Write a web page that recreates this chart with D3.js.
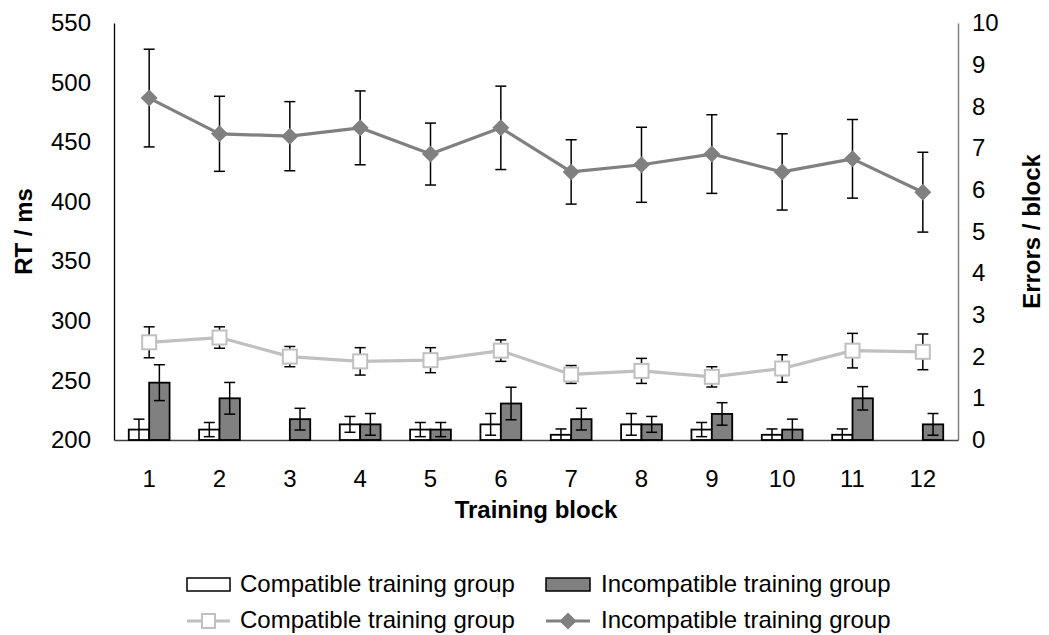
<!DOCTYPE html>
<html>
<head>
<meta charset="utf-8">
<script src="https://cdn.jsdelivr.net/npm/d3@7"></script>
<style>
  html, body { margin: 0; padding: 0; background: #fff; }
  svg { display: block; font-family: "Liberation Sans", Arial, sans-serif; }
  text { fill: #000; }
</style>
</head>
<body>
<svg id="chart" width="1049" height="635"></svg>
<script>
// Training blocks on the x axis
const blocks = ["1","2","3","4","5","6","7","8","9","10","11","12"];

// Reaction times (ms), means and standard errors
const rtCompatible      = [282, 286, 270, 266, 267, 275, 255, 258, 253, 260, 275, 274];
const rtCompatibleSE    = [13, 9, 8.5, 11.5, 10.5, 9, 7.5, 10.5, 8.5, 11.5, 14.5, 15];
const rtIncompatible    = [487, 457, 455, 462, 440, 462, 425, 431, 440, 425, 436, 408];
const rtIncompatibleSE  = [41, 31.5, 29, 31, 26, 35, 27, 31.5, 33, 32, 33, 33.5];

// Errors per block, means and standard errors
const errCompatible     = [0.25, 0.25, 0, 0.375, 0.25, 0.375, 0.125, 0.375, 0.25, 0.125, 0.125, 0];
const errCompatibleSE   = [0.25, 0.17, 0, 0.19, 0.17, 0.26, 0.14, 0.26, 0.17, 0.14, 0.14, 0];
const errIncompatible   = [1.375, 1.0, 0.5, 0.375, 0.25, 0.875, 0.5, 0.375, 0.625, 0.25, 1.0, 0.375];
const errIncompatibleSE = [0.43, 0.38, 0.26, 0.26, 0.17, 0.39, 0.26, 0.19, 0.27, 0.25, 0.28, 0.26];

// Axis ticks
const rtTicks  = [200, 250, 300, 350, 400, 450, 500, 550];
const errTicks = [0, 1, 2, 3, 4, 5, 6, 7, 8, 9, 10];

const legendLabels = ["Compatible training group", "Incompatible training group"];

const svg = d3.select("#chart");
const plot = { left: 114, right: 958, top: 23, bottom: 440 };
const FONT = 24;

const x = d3.scaleBand().domain(blocks).range([plot.left, plot.right]).padding(0);
const yRT = d3.scaleLinear().domain([200, 550]).range([plot.bottom, plot.top]);
const yErr = d3.scaleLinear().domain([0, 10]).range([plot.bottom, plot.top]);

const barW = x.bandwidth() * 0.29;
const cx = d => x(d) + x.bandwidth() / 2;

// ---- Axes ----
const gLeft = svg.append("g").attr("transform", `translate(${plot.left},0)`)
  .call(d3.axisLeft(yRT).tickValues(rtTicks).tickSize(0).tickSizeOuter(0).tickPadding(23));
gLeft.select(".domain").attr("stroke", "#000").attr("stroke-width", 1.3);

const gRight = svg.append("g").attr("transform", `translate(${plot.right},0)`)
  .call(d3.axisRight(yErr).tickValues(errTicks).tickSize(0).tickSizeOuter(0).tickPadding(14));
gRight.select(".domain").attr("stroke", "#808080").attr("stroke-width", 1.5);

const gBottom = svg.append("g").attr("transform", `translate(0,${plot.bottom})`)
  .call(d3.axisBottom(x).tickSize(0).tickSizeOuter(0).tickPadding(30));
gBottom.select(".domain").attr("stroke", "#404040").attr("stroke-width", 1.3);

svg.selectAll(".tick text").attr("font-size", FONT).attr("font-family", "Liberation Sans, Arial, sans-serif").attr("fill", "#000");

// ---- Axis titles ----
svg.append("text")
  .attr("transform", `translate(32,${(plot.top + plot.bottom) / 2}) rotate(-90)`)
  .attr("text-anchor", "middle").attr("font-size", FONT).attr("font-weight", "bold")
  .text("RT / ms");
svg.append("text")
  .attr("transform", `translate(1040,${(plot.top + plot.bottom) / 2}) rotate(-90)`)
  .attr("text-anchor", "middle").attr("font-size", FONT).attr("font-weight", "bold")
  .text("Errors / block");
svg.append("text")
  .attr("x", (plot.left + plot.right) / 2).attr("y", 518)
  .attr("text-anchor", "middle").attr("font-size", FONT).attr("font-weight", "bold")
  .text("Training block");

// ---- Error-count bars ----
const barSeries = [
  { values: errCompatible, se: errCompatibleSE, offset: -barW, fill: "#ffffff" },
  { values: errIncompatible, se: errIncompatibleSE, offset: 0, fill: "#808080" }
];
const capHalf = 5.5;

barSeries.forEach(s => {
  const g = svg.append("g");
  g.selectAll("rect").data(blocks).join("rect")
    .attr("x", d => cx(d) + s.offset)
    .attr("y", (d, i) => yErr(s.values[i]))
    .attr("width", barW)
    .attr("height", (d, i) => yErr(0) - yErr(s.values[i]))
    .attr("fill", s.fill)
    .attr("stroke", "#000").attr("stroke-width", 1.8);
  const eb = g.selectAll("g.eb").data(blocks.filter((d, i) => s.se[i] > 0)).join("g").attr("class", "eb");
  const idx = d => blocks.indexOf(d);
  const ex = d => cx(d) + s.offset + barW / 2;
  const hi = d => yErr(s.values[idx(d)] + s.se[idx(d)]);
  const lo = d => yErr(Math.max(0, s.values[idx(d)] - s.se[idx(d)]));
  eb.append("line").attr("x1", ex).attr("x2", ex).attr("y1", hi).attr("y2", lo)
    .attr("stroke", "#000").attr("stroke-width", 1.5);
  eb.append("line").attr("x1", d => ex(d) - capHalf).attr("x2", d => ex(d) + capHalf)
    .attr("y1", hi).attr("y2", hi).attr("stroke", "#000").attr("stroke-width", 1.5);
  eb.append("line").attr("x1", d => ex(d) - capHalf).attr("x2", d => ex(d) + capHalf)
    .attr("y1", lo).attr("y2", lo).attr("stroke", "#000").attr("stroke-width", 1.5)
    .attr("display", d => s.values[idx(d)] - s.se[idx(d)] < 0.02 ? "none" : null);
});

// ---- Reaction-time lines ----
const diamond = r => `M0,${-r}L${r},0L0,${r}L${-r},0Z`;
const lineSeries = [
  { values: rtCompatible, se: rtCompatibleSE, color: "#c0c0c0", marker: "square" },
  { values: rtIncompatible, se: rtIncompatibleSE, color: "#808080", marker: "diamond" }
];

lineSeries.forEach(s => {
  const g = svg.append("g");
  // error bars
  blocks.forEach((d, i) => {
    const xx = cx(d), t = yRT(s.values[i] + s.se[i]), b = yRT(s.values[i] - s.se[i]);
    g.append("line").attr("x1", xx).attr("x2", xx).attr("y1", t).attr("y2", b)
      .attr("stroke", "#000").attr("stroke-width", 1.5);
    [t, b].forEach(yy => g.append("line").attr("x1", xx - capHalf).attr("x2", xx + capHalf)
      .attr("y1", yy).attr("y2", yy).attr("stroke", "#000").attr("stroke-width", 1.5));
  });
  // connecting line
  const line = d3.line().x((d, i) => cx(blocks[i])).y(d => yRT(d));
  g.append("path").datum(s.values).attr("d", line)
    .attr("fill", "none").attr("stroke", s.color).attr("stroke-width", 3.2)
    .attr("stroke-linejoin", "round");
  // markers
  const m = g.selectAll("g.m").data(s.values).join("g").attr("class", "m")
    .attr("transform", (d, i) => `translate(${cx(blocks[i])},${yRT(d)})`);
  if (s.marker === "square") {
    m.append("rect").attr("x", -7).attr("y", -7).attr("width", 14).attr("height", 14)
      .attr("fill", "#fff").attr("stroke", s.color).attr("stroke-width", 2);
  } else {
    m.append("path").attr("d", diamond(8.5)).attr("fill", s.color);
  }
});

// ---- Legend ----
const lg = svg.append("g");
const cols = [187, 546];
const textX = [240, 601];
// row 1: bar swatches
lg.append("rect").attr("x", cols[0]).attr("y", 578).attr("width", 43).attr("height", 13)
  .attr("fill", "#fff").attr("stroke", "#000").attr("stroke-width", 1.5);
lg.append("rect").attr("x", cols[1]).attr("y", 578).attr("width", 44).attr("height", 13)
  .attr("fill", "#808080").attr("stroke", "#000").attr("stroke-width", 1.5);
// row 2: line swatches
lg.append("line").attr("x1", cols[0]).attr("x2", cols[0] + 43).attr("y1", 621).attr("y2", 621)
  .attr("stroke", "#c0c0c0").attr("stroke-width", 3);
lg.append("rect").attr("x", cols[0] + 21.5 - 6.5).attr("y", 621 - 7).attr("width", 13).attr("height", 14)
  .attr("fill", "#fff").attr("stroke", "#c0c0c0").attr("stroke-width", 2);
lg.append("line").attr("x1", cols[1]).attr("x2", cols[1] + 44).attr("y1", 621).attr("y2", 621)
  .attr("stroke", "#808080").attr("stroke-width", 3);
lg.append("path").attr("transform", `translate(${cols[1] + 22},621)`).attr("d", diamond(8.5))
  .attr("fill", "#808080");

[592, 628].forEach(by => {
  legendLabels.forEach((t, i) => {
    lg.append("text").attr("x", textX[i]).attr("y", by).attr("font-size", FONT).text(t);
  });
});
</script>
</body>
</html>
